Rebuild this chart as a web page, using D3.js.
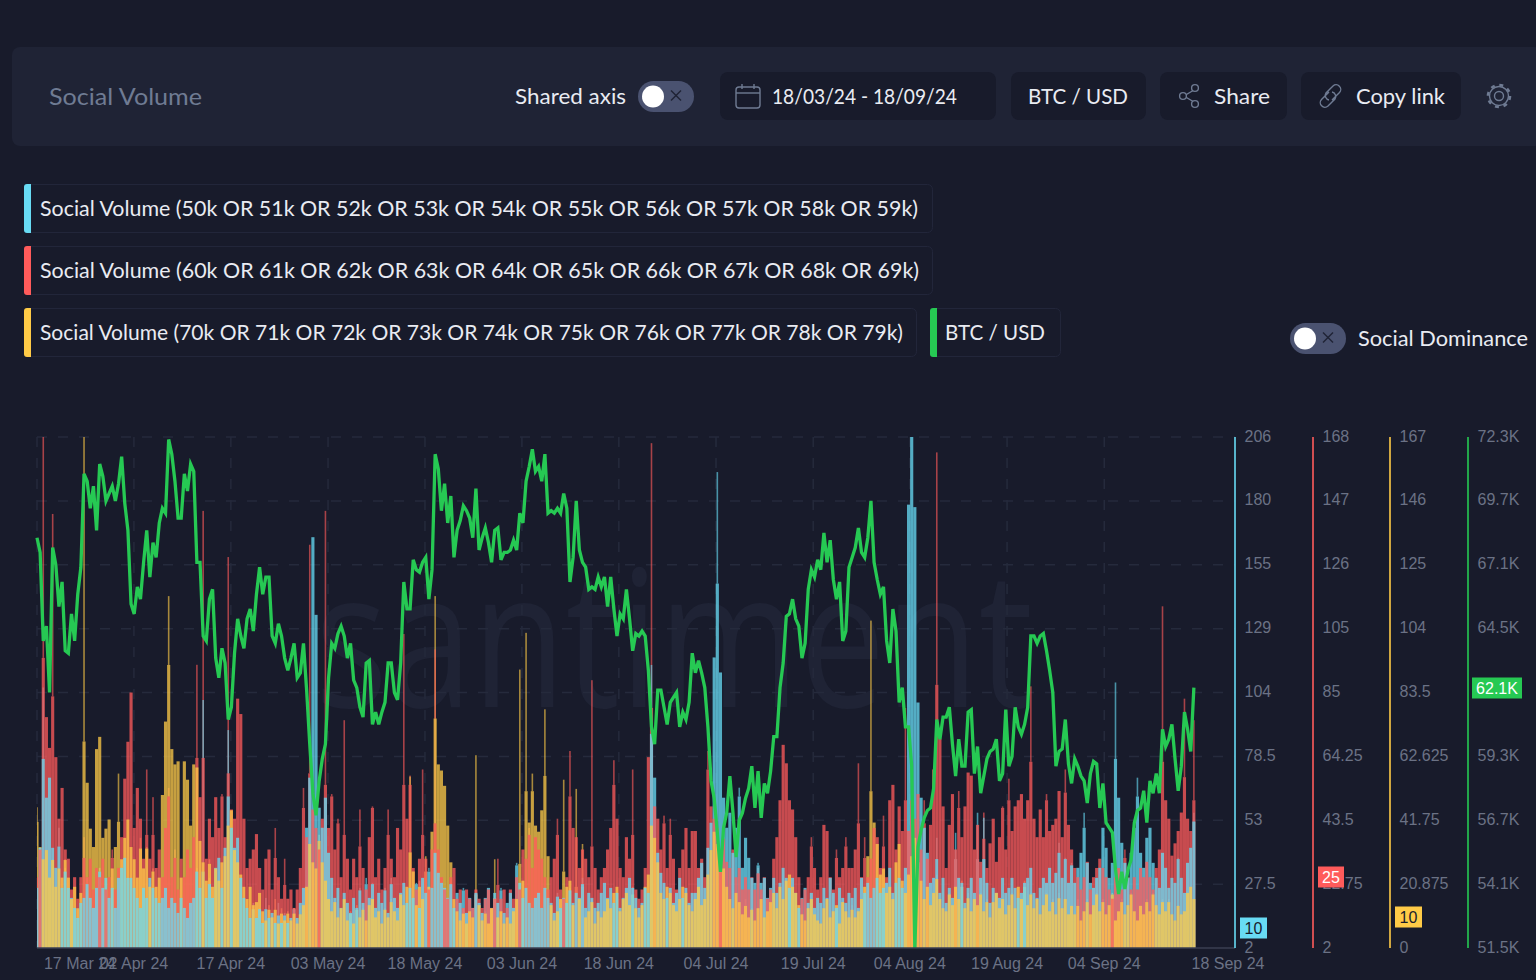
<!DOCTYPE html>
<html><head><meta charset="utf-8">
<script src="https://cdn.jsdelivr.net/npm/d3@7/dist/d3.min.js"></script>
<style>html,body{margin:0;padding:0;background:#181b2b;overflow:hidden}svg{display:block}</style>
</head><body><svg id="c" width="1536" height="980"></svg>
<script>
const startDate = "2024-03-18", endDate = "2024-09-19";
const tickDates = ["2024-03-18T00:00","2024-04-02T11:00","2024-04-17T22:00","2024-05-03T10:00","2024-05-18T21:00","2024-06-03T08:00","2024-06-18T19:00","2024-07-04T07:00","2024-07-19T19:00","2024-08-04T05:00","2024-08-19T17:00","2024-09-04T05:00","2024-09-19T00:00"];
const tickLabels = ["17 Mar 24","02 Apr 24","17 Apr 24","03 May 24","18 May 24","03 Jun 24","18 Jun 24","04 Jul 24","19 Jul 24","04 Aug 24","19 Aug 24","04 Sep 24","18 Sep 24"];
const blueTicks = [2,27.5,53,78.5,104,129,155,180,206];
const redTicks = [2,22.75,43.5,64.25,85,105,126,147,168];
const yellowTicks = [0,20.875,41.75,62.625,83.5,104,125,146,167];
const btcTicks = [51.5,54.1,56.7,59.3,62.1,64.5,67.1,69.7,72.3];
const redVolume = [
25,34,168,77,67,143,64,44,54,34,
31,21,25,18,25,38,25,31,21,28,
25,31,21,25,34,21,28,38,57,69,
85,41,54,44,31,60,31,51,28,34,
25,41,54,25,34,21,31,25,34,28,
38,94,51,144,31,44,38,51,41,52,
38,129,47,44,83,78,44,28,31,34,
39,28,21,31,34,21,41,25,18,31,
18,21,15,21,28,54,38,133,47,41,
34,44,144,41,52,34,44,25,76,31,
21,31,25,47,28,21,38,48,25,31,
21,28,47,31,25,41,34,104,44,58,
28,21,31,60,31,21,34,99,34,25,
21,18,25,28,18,21,15,21,18,15,
21,18,15,18,21,15,18,31,18,21,
15,21,18,25,21,34,31,41,28,38,
34,31,25,21,25,31,44,21,18,25,
66,41,38,28,34,31,25,89,28,21,
25,28,34,41,63,44,28,25,38,31,
60,21,18,21,28,64,166,48,44,34,
45,28,44,31,21,28,34,41,28,40,
40,28,31,25,66,48,44,41,30,38,
30,28,34,25,28,21,25,21,25,21,
28,21,25,18,21,31,38,50,68,62,
50,47,38,25,18,21,25,38,28,21,
25,42,40,25,21,34,25,28,38,28,
28,34,62,25,38,25,31,41,38,28,
45,25,50,55,34,48,40,80,40,50,
44,52,34,50,31,42,60,163,70,48,
28,42,52,34,53,38,48,59,58,34,
42,30,46,28,36,44,30,38,48,34,
57,40,48,50,52,44,50,87,44,38,
47,38,52,40,42,44,53,38,60,42,
34,28,25,21,25,30,21,25,28,31,
28,25,21,18,25,28,21,34,25,21,
25,21,28,25,30,25,21,28,34,113,
50,44,32,36,40,46,83,44,40,76];
const yellowVolume = [
46,33,29,32,23,29,20,26,23,29,
23,16,20,13,18,167,54,39,33,65,
69,36,39,42,26,33,57,29,36,42,
33,29,23,36,26,33,20,26,20,23,
50,74,115,65,60,61,23,61,55,40,
60,59,35,28,22,29,20,26,22,28,
30,40,45,32,28,24,20,16,20,14,
15,18,12,9,14,10,16,8,13,9,
12,9,13,8,11,14,20,34,28,26,
37,28,22,16,12,15,10,13,16,9,
12,8,14,10,13,9,14,16,10,12,
8,13,10,16,12,9,18,14,20,56,
25,14,22,16,30,20,38,115,60,58,
53,40,28,16,12,9,13,8,12,10,
63,14,9,12,8,13,29,10,12,8,
10,8,12,16,91,22,103,41,57,40,
38,45,78,30,14,9,12,16,55,20,
22,14,52,16,34,10,12,16,8,12,
10,12,16,13,18,20,12,16,18,14,
20,13,10,14,20,24,40,36,28,18,
16,20,18,14,12,16,20,18,14,12,
16,20,14,16,24,32,38,34,30,26,
20,16,13,18,15,11,16,10,13,9,
13,16,10,12,15,18,13,20,16,22,
24,20,18,14,11,9,13,16,11,9,
8,13,16,10,12,14,8,15,12,10,
14,10,12,16,20,30,107,41,34,24,
26,18,20,16,28,34,22,18,24,30,
36,28,22,16,20,14,18,24,16,13,
12,18,14,20,16,22,13,18,12,16,
14,18,12,16,10,15,18,13,16,11,
14,18,13,20,16,22,14,18,13,16,
11,14,18,12,16,11,18,13,16,11,
14,11,16,9,12,16,11,14,18,12,
16,11,14,18,9,12,16,11,14,18,
12,9,14,11,16,12,18,14,11,16,
12,16,11,9,14,11,12,18,20,16];
const blueVolume = [
26,42,106,62,70,42,34,50,26,34,
26,22,18,14,20,22,30,22,18,26,
34,26,30,22,26,18,30,34,38,30,
30,26,22,18,26,22,30,26,22,20,
22,26,18,22,20,16,22,18,14,20,
22,34,26,101,22,30,22,34,38,26,
42,89,50,42,46,30,22,18,14,20,
14,18,12,22,14,16,12,20,12,16,
12,14,18,14,20,26,50,70,166,135,
58,50,62,40,30,22,26,18,24,20,
16,22,18,26,20,30,22,28,18,24,
20,26,16,30,22,18,24,28,20,26,
22,28,18,30,24,34,26,40,32,28,
26,22,28,18,24,20,26,16,22,18,
24,20,16,22,26,18,24,20,26,16,
20,24,18,36,28,22,26,20,18,22,
24,18,26,22,20,16,24,18,22,20,
26,20,24,22,30,18,24,22,18,20,
24,28,22,26,20,24,18,22,26,30,
26,22,18,20,26,24,115,70,40,32,
28,22,26,20,24,30,22,26,20,24,
24,30,36,26,42,52,118,192,112,62,
50,56,40,50,66,34,46,38,30,28,
36,28,30,22,26,30,24,28,34,30,
26,30,24,18,22,26,20,24,18,22,
20,26,22,30,24,18,26,22,20,24,
22,26,18,30,24,28,22,26,30,24,
26,28,34,24,28,30,26,34,179,206,
178,100,62,50,40,28,30,46,24,30,
20,26,22,48,30,28,20,26,30,24,
56,30,54,28,20,26,24,22,30,24,
26,30,26,22,24,28,30,34,24,22,
26,30,28,34,28,32,44,30,38,28,
36,28,34,40,56,36,28,26,30,34,
50,42,30,36,108,62,44,36,30,40,
50,70,40,34,46,50,36,30,26,40,
34,26,30,28,38,30,24,36,42,56];
const btcPrice = [
68.2,67.6,64.0,64.6,61.9,67.8,67.1,65.4,66.4,63.6,
63.5,65.1,64.0,65.9,67.0,70.8,70.5,69.4,70.3,68.5,
71.2,70.7,69.7,70.0,70.3,69.7,70.4,71.5,69.6,68.5,
65.5,65.1,66.2,65.7,67.2,68.5,66.6,68.0,67.4,68.8,
69.4,69.2,72.2,71.6,70.5,69.0,69.0,70.8,70.1,71.2,
70.9,67.2,67.2,64.2,64.0,65.7,66.1,63.3,62.5,63.7,
63.1,60.8,61.3,63.5,64.9,64.2,63.7,64.9,65.3,64.4,
65.9,67.0,65.9,66.6,66.6,64.2,63.9,64.7,64.2,63.3,
62.8,63.3,63.9,62.5,62.7,63.9,62.0,59.8,57.8,56.9,
58.3,59.2,59.8,62.5,63.9,63.7,64.3,64.6,64.2,63.3,
63.9,62.4,62.1,61.3,60.9,63.1,63.2,60.6,61.1,60.6,
61.1,61.5,63.1,63.1,61.9,61.6,63.1,66.4,65.3,65.3,
67.3,66.9,66.8,67.2,67.4,65.7,66.9,71.6,71.0,69.3,
70.4,68.8,69.9,67.4,68.5,68.9,69.5,69.3,69.0,68.2,
70.2,67.7,68.2,68.6,68.0,67.2,68.5,68.6,67.3,67.6,
67.6,67.7,68.1,67.7,69.2,68.8,70.5,71.1,71.8,70.9,
71.1,70.5,71.6,69.2,69.3,69.2,69.4,69.2,70.0,69.4,
66.4,67.4,69.7,67.7,67.2,67.0,66.1,66.2,66.1,66.6,
66.2,66.6,65.4,66.6,65.3,64.2,65.1,64.9,66.1,64.9,
63.6,64.3,64.2,64.4,64.2,62.8,60.5,59.8,62.0,62.0,
61.3,60.6,61.5,61.7,61.9,60.5,61.1,60.8,61.5,63.5,
62.7,63.2,62.7,62.1,60.5,58.3,57.6,56.2,54.6,56.4,
57.0,58.5,57.0,55.2,56.7,57.0,57.6,58.0,58.9,57.2,
58.7,56.8,58.2,57.8,58.7,60.1,60.1,62.1,63.1,65.0,
65.1,65.7,64.9,64.6,63.3,63.9,66.1,66.9,66.6,67.3,
66.9,68.4,67.2,68.1,66.5,65.7,66.4,64.0,64.4,67.0,
67.4,67.8,68.6,67.6,67.4,68.2,69.7,67.2,66.5,65.9,
66.2,64.0,63.1,65.3,64.4,61.5,62.1,60.5,60.5,58.9,
51.5,55.6,56.3,56.8,57.1,57.2,58.0,60.8,60.0,60.9,
60.9,61.3,59.8,58.5,60.0,58.9,58.9,61.1,61.2,58.6,
59.7,57.8,58.5,59.2,59.5,59.6,60.0,58.3,58.6,61.2,
58.9,59.3,61.3,60.5,60.2,60.6,61.3,64.2,64.2,63.9,
64.2,64.3,63.6,62.8,61.9,58.9,59.5,59.6,60.8,59.0,
58.2,59.2,58.9,58.5,58.3,57.4,58.6,59.1,59.0,57.2,
58.2,56.6,56.4,56.2,54.7,53.7,54.6,53.9,54.7,55.1,
56.6,57.1,57.2,57.9,56.6,58.3,57.8,58.6,57.8,60.4,
59.7,60.0,60.6,59.2,57.9,58.9,61.1,60.4,59.5,62.1];
const lastBlue = 10, lastRed = 25, lastYellow = 10, lastBtc = 62.1;

const C = {bg:"#181b2b",panel:"#1f2335",blue:"#68dbf4",red:"#ff5b5b",yellow:"#ffcb47",green:"#26c953",txt:"#e9ebf2",mut:"#6f7b93",ax:"#6b7285",grid:"#252a3c",chip:"#22263a"};
const UI = "Lato, 'Open Sans', sans-serif", AX = "'Liberation Sans', Arial, sans-serif";
const svg = d3.select("#c");
const plotTop = 437, base = 948, plotLeft = 37, plotRight = 1197, gridRight = 1235;

const parse = d => new Date(d + (d.length===10?"T00:00:00Z":":00Z"));
const x = d3.scaleTime().domain([parse(startDate),parse(endDate)]).range([plotLeft,plotRight]);
const dates = redVolume.map((_,i)=>new Date(+parse(startDate)+i*12*3600e3));
const yBlue = d3.scaleLinear().domain([2,206]).range([base,plotTop]);
const yRed = d3.scaleLinear().domain([2,168]).range([base,plotTop]);
const yYellow = d3.scaleLinear().domain([0,167]).range([base,plotTop]);
const yBtc = d3.scaleLinear().domain([51.5,72.3]).range([base,plotTop]);
const ySplit = d3.scaleLinear().domain([0,8]).range([base,plotTop]);

// ---- header
svg.append("rect").attr("x",12).attr("y",47).attr("width",1530).attr("height",99).attr("rx",8).attr("fill",C.panel);
function label(t,x0,x1,yc,size,fill){
  return svg.append("text").attr("x",x0).attr("y",yc).attr("dy","0.35em").attr("font-family",UI).attr("font-size",size).attr("fill",fill)
    .attr("textLength",x1-x0).attr("lengthAdjust","spacingAndGlyphs").text(t);
}
label("Social Volume",49,202,97,24,C.mut);
label("Shared axis",515,626,96,22,C.txt);
function toggle(x0,y0){
  svg.append("rect").attr("x",x0).attr("y",y0).attr("width",56).attr("height",31).attr("rx",15.5).attr("fill","#4a5270");
  svg.append("ellipse").attr("cx",x0+15).attr("cy",y0+15.5).attr("rx",11).attr("ry",11).attr("fill","#fff");
  const g = svg.append("g").attr("stroke","#1f2335").attr("stroke-width",1.4);
  const cx=x0+38, cy=y0+14.5;
  g.append("line").attr("x1",cx-5).attr("y1",cy-5).attr("x2",cx+5).attr("y2",cy+5);
  g.append("line").attr("x1",cx+5).attr("y1",cy-5).attr("x2",cx-5).attr("y2",cy+5);
}
toggle(638,81);
[[720,996],[1011,1146],[1160,1287],[1301,1461]].forEach(b=>svg.append("rect").attr("x",b[0]).attr("y",72).attr("width",b[1]-b[0]).attr("height",48).attr("rx",8).attr("fill",C.bg));
label("18/03/24 - 18/09/24",772,957,96,22,C.txt);
label("BTC / USD",1028,1128,96,22,C.txt);
label("Share",1214,1270,96,22,C.txt);
label("Copy link",1356,1445,96,22,C.txt);
const ic = svg.append("g").attr("fill","none").attr("stroke",C.mut).attr("stroke-width",1.4);
ic.append("rect").attr("x",736).attr("y",87).attr("width",24).attr("height",21).attr("rx",3);
ic.append("line").attr("x1",736).attr("x2",760).attr("y1",93).attr("y2",93);
ic.append("line").attr("x1",742).attr("x2",742).attr("y1",84).attr("y2",89);
ic.append("line").attr("x1",754).attr("x2",754).attr("y1",84).attr("y2",89);
ic.append("path").attr("d","M1194 90 L1184 96 L1194 102");
[[1195,88],[1183,96],[1195,104]].forEach(p=>ic.append("circle").attr("cx",p[0]).attr("cy",p[1]).attr("r",3.4).attr("fill",C.bg));
ic.append("path").attr("d","M1329 92 L1321.5 99.5 a4.6 4.6 0 0 0 6.5 6.5 L1335 99 a4.6 4.6 0 0 0 -3 -7 M1332 100 L1339.5 92.5 a4.6 4.6 0 0 0 -6.5 -6.5 L1326 93 a4.6 4.6 0 0 0 3 7");
ic.append("circle").attr("cx",1499).attr("cy",96).attr("r",4.5);
ic.append("circle").attr("cx",1499).attr("cy",96).attr("r",9.5);
ic.append("circle").attr("cx",1499).attr("cy",96).attr("r",11).attr("stroke-width",2.6).attr("stroke-dasharray","3.9 4.74");

// ---- legend chips
const chips = [
 {t:"Social Volume (50k OR 51k OR 52k OR 53k OR 54k OR 55k OR 56k OR 57k OR 58k OR 59k)",c:C.blue,x0:24,x1:933,y0:184,tx:40,te:918},
 {t:"Social Volume (60k OR 61k OR 62k OR 63k OR 64k OR 65k OR 66k OR 67k OR 68k OR 69k)",c:C.red,x0:24,x1:933,y0:246,tx:40,te:919},
 {t:"Social Volume (70k OR 71k OR 72k OR 73k OR 74k OR 75k OR 76k OR 77k OR 78k OR 79k)",c:C.yellow,x0:24,x1:917,y0:308,tx:40,te:903},
 {t:"BTC / USD",c:C.green,x0:930,x1:1061,y0:308,tx:945,te:1045}];
chips.forEach(d=>{
  svg.append("rect").attr("x",d.x0+.5).attr("y",d.y0+.5).attr("width",d.x1-d.x0-1).attr("height",48).attr("rx",5).attr("fill","none").attr("stroke",C.chip);
  svg.append("path").attr("d",`M${d.x0+7} ${d.y0} H${d.x0+3} a3 3 0 0 0 -3 3 V${d.y0+46} a3 3 0 0 0 3 3 H${d.x0+7} Z`).attr("fill",d.c);
  label(d.t,d.tx,d.te,d.y0+24,22,C.txt);
});
toggle(1290,323);
label("Social Dominance",1358,1528,338,22,C.txt);

// ---- watermark
svg.append("text").attr("x",315).attr("y",707).attr("font-family","'Open Sans'").attr("font-weight",400).attr("font-size",190).attr("fill","#1f2335")
  .attr("textLength",718).attr("lengthAdjust","spacingAndGlyphs").text("santiment");

// ---- grid
const grid = svg.append("g").attr("stroke",C.grid).attr("stroke-width",1.5).attr("stroke-dasharray","10 11").attr("fill","none");
d3.range(1,9).forEach(i=>grid.append("line").attr("x1",plotLeft).attr("x2",gridRight).attr("y1",ySplit(i)).attr("y2",ySplit(i)));
tickDates.slice(0,12).forEach(d=>grid.append("line").attr("x1",x(parse(d))).attr("x2",x(parse(d))).attr("y1",plotTop).attr("y2",base));

// ---- bars: in each 12h column the tallest series sits behind, the shortest in front
svg.append("clipPath").attr("id","plot").append("rect").attr("x",plotLeft).attr("y",plotTop).attr("width",plotRight-plotLeft).attr("height",base-plotTop);
const series = [
 {v:redVolume,y:yRed,c:C.red},
 {v:yellowVolume,y:yYellow,c:C.yellow},
 {v:blueVolume,y:yBlue,c:C.blue}];
const stepW = x(dates[1])-x(dates[0]);
const marks = [];
dates.forEach((dt,i)=>{
  const col = series.map(s=>{
    const v = s.v[i], prev = s.v[i-1] ?? 0, next = s.v[i+1] ?? 0;
    const cap = Math.min(v, 1.25*Math.max(prev,next));
    return {i,v,cap,s};
  });
  col.sort((a,b)=>a.s.y(a.v)-b.s.y(b.v));
  marks.push(...col);
});
const barG = svg.append("g").attr("clip-path","url(#plot)");
barG.selectAll("rect.spike").data(marks.filter(m=>m.cap<m.v)).join("rect").attr("class","spike")
  .attr("x",m=>x(dates[m.i])-0.8).attr("width",1.6)
  .attr("y",m=>m.s.y(m.v)).attr("height",m=>m.s.y(m.cap)-m.s.y(m.v))
  .attr("fill",m=>m.s.c).attr("fill-opacity",0.62);
barG.selectAll("rect.bar").data(marks).join("rect").attr("class","bar")
  .attr("x",m=>x(dates[m.i])-stepW/2).attr("width",stepW)
  .attr("y",m=>m.s.y(m.cap)).attr("height",m=>base-m.s.y(m.cap))
  .attr("fill",m=>m.s.c).attr("fill-opacity",0.76);

// ---- price line
const line = d3.line().x((d,i)=>x(dates[i])).y(d=>yBtc(d)).curve(d3.curveLinear);
svg.append("path").datum(btcPrice).attr("d",line).attr("fill","none").attr("stroke",C.green).attr("stroke-width",3.3).attr("stroke-linejoin","miter");

// ---- baseline, x axis
svg.append("line").attr("x1",plotLeft).attr("x2",gridRight).attr("y1",base).attr("y2",base).attr("stroke","#3a3f52").attr("stroke-width",1.5);
const xAxisOffsets = tickLabels.map((_,i)=>i===0?43:(i===tickLabels.length-1?31:0));
svg.append("g").selectAll("text").data(tickDates).join("text")
  .attr("x",(d,i)=>x(parse(d))+xAxisOffsets[i]).attr("y",969).attr("text-anchor","middle")
  .attr("font-family",AX).attr("font-size",16).attr("fill",C.ax).text((d,i)=>tickLabels[i]);

// ---- right axes
function rightAxis(ticks,fmt,xLine,color){
  svg.append("line").attr("x1",xLine).attr("x2",xLine).attr("y1",plotTop).attr("y2",base).attr("stroke",color).attr("stroke-width",2).attr("stroke-opacity",.8);
  svg.append("g").selectAll("text").data(ticks).join("text")
    .attr("x",xLine+9.5).attr("y",(d,i)=>ySplit(i)-1).attr("dy","0.35em")
    .attr("font-family",AX).attr("font-size",16).attr("fill",C.ax).text(fmt);
}
rightAxis(blueTicks,d=>d,1235,C.blue);
rightAxis(redTicks,d=>d,1313,C.red);
rightAxis(yellowTicks,d=>d,1390,C.yellow);
rightAxis(btcTicks,d=>d+"K",1468,C.green);

function marker(yv,x0,w,t,bg,fg){
  const yc=Math.round(yv);
  svg.append("rect").attr("x",x0).attr("y",yc-10.5).attr("width",w).attr("height",21).attr("fill",bg);
  svg.append("text").attr("x",x0+w/2).attr("y",yc).attr("dy","0.35em").attr("text-anchor","middle").attr("font-family",AX).attr("font-size",16).attr("fill",fg).text(t);
}
marker(yBlue(lastBlue),1240,27,lastBlue,C.blue,"#181b2b");
marker(yRed(lastRed),1318,26,lastRed,C.red,"#fff");
marker(yYellow(lastYellow),1395,27,lastYellow,C.yellow,"#181b2b");
marker(yBtc(lastBtc),1472,50,lastBtc+"K",C.green,"#fff");
</script></body></html>
